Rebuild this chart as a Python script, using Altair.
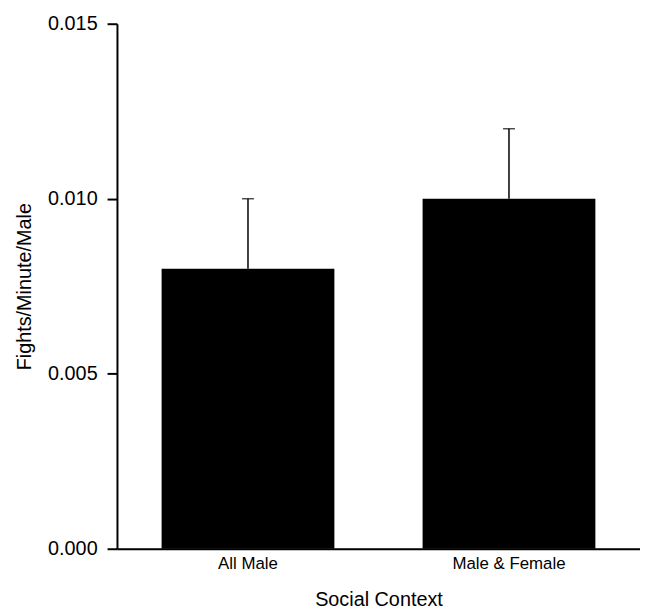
import altair as alt
import pandas as pd

contexts = ["All Male", "Male & Female"]
means = [0.008, 0.010]
upper = [0.010, 0.012]
y_ticks = [0.0, 0.005, 0.010, 0.015]

df = pd.DataFrame({"context": contexts, "mean": means, "upper": upper})

FONT = "Liberation Sans"

x_enc = alt.X(
    "context:N",
    sort=contexts,
    scale=alt.Scale(paddingInner=0.338, paddingOuter=0.171),
    axis=alt.Axis(
        title="Social Context",
        labelAngle=0,
        ticks=False,
        grid=False,
        labelPadding=7,
        labelFontSize=17,
        titleFontSize=20,
        titlePadding=18,
        titleFontWeight="normal",
        domainColor="black",
        domainWidth=2,
        labelColor="black",
        titleColor="black",
        labelFont=FONT,
        titleFont=FONT,
    ),
)

y_scale = alt.Scale(domain=[0, 0.015], nice=False, zero=True)

bars = alt.Chart(df).mark_bar(color="black").encode(
    x=x_enc,
    y=alt.Y(
        "mean:Q",
        scale=y_scale,
        axis=alt.Axis(
            title="Fights/Minute/Male",
            values=y_ticks,
            format=".3f",
            grid=False,
            tickSize=10,
            tickWidth=2,
            tickColor="black",
            labelPadding=10,
            labelFontSize=20,
            titleFontSize=20,
            titlePadding=13,
            titleFontWeight="normal",
            domainColor="black",
            domainWidth=2,
            labelColor="black",
            titleColor="black",
            labelFont=FONT,
            titleFont=FONT,
        ),
    ),
)

err = alt.Chart(df).mark_rule(color="black", strokeWidth=1.5).encode(
    x=alt.X("context:N", sort=contexts),
    y=alt.Y("mean:Q", scale=y_scale),
    y2="upper:Q",
)

caps = alt.Chart(df).mark_tick(color="black", size=12, thickness=1.5).encode(
    x=alt.X("context:N", sort=contexts),
    y=alt.Y("upper:Q", scale=y_scale),
)

chart = (
    alt.layer(bars, err, caps)
    .properties(
        width=528,
        height=530,
        background="white",
        autosize=alt.AutoSizeParams(type="none"),
        padding={"left": 110, "top": 13, "right": 0, "bottom": 62},
    )
    .configure_axis(grid=False)
    .configure_view(stroke="transparent", strokeWidth=0)
)

chart.save("out.html", embed_options={"renderer": "svg", "actions": False})
